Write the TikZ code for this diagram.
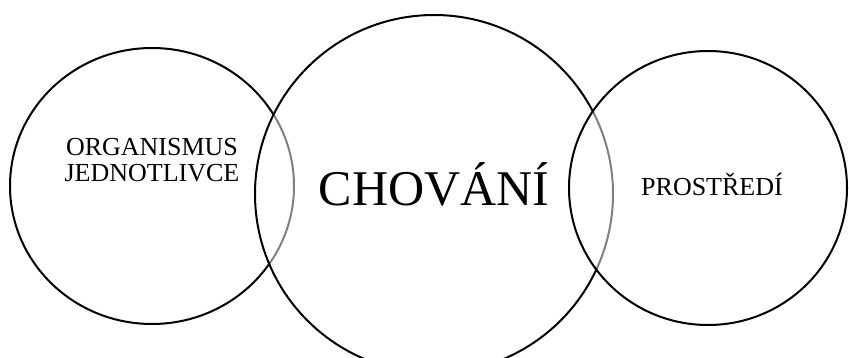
\documentclass[tikz,border=0pt]{standalone}
\usepackage{fontspec}
\setmainfont{Liberation Serif}
\usetikzlibrary{shapes.geometric}
\begin{document}
\begin{tikzpicture}[x=1pt, y=-1pt, line width=2pt,
  blob/.style={ellipse, draw, inner sep=0pt},
  topblob/.style={blob, fill=white, fill opacity=0.5, text opacity=1},
  label/.style={inner sep=0pt, anchor=base, align=center}]
\useasboundingbox (0,0) rectangle (849,358);

\node (org) [blob, minimum width=284pt, minimum height=276pt] at (152,186) {};
\node (chov) [topblob, minimum width=358pt, minimum height=358pt] at (434,194) {};
\node (prost) [topblob, minimum width=278pt, minimum height=274pt] at (708,188) {};

\node (orgtext) [label, font=\fontsize{26}{26}\selectfont] at (152,182) {ORGANISMUS\\JEDNOTLIVCE};
\node (chovtext) [label, font=\fontsize{50}{50}\selectfont] at (434,206) {CHOVÁNÍ};
\node (prosttext) [label, font=\fontsize{26}{26}\selectfont] at (712,196) {PROSTŘEDÍ};

\end{tikzpicture}
\end{document}
